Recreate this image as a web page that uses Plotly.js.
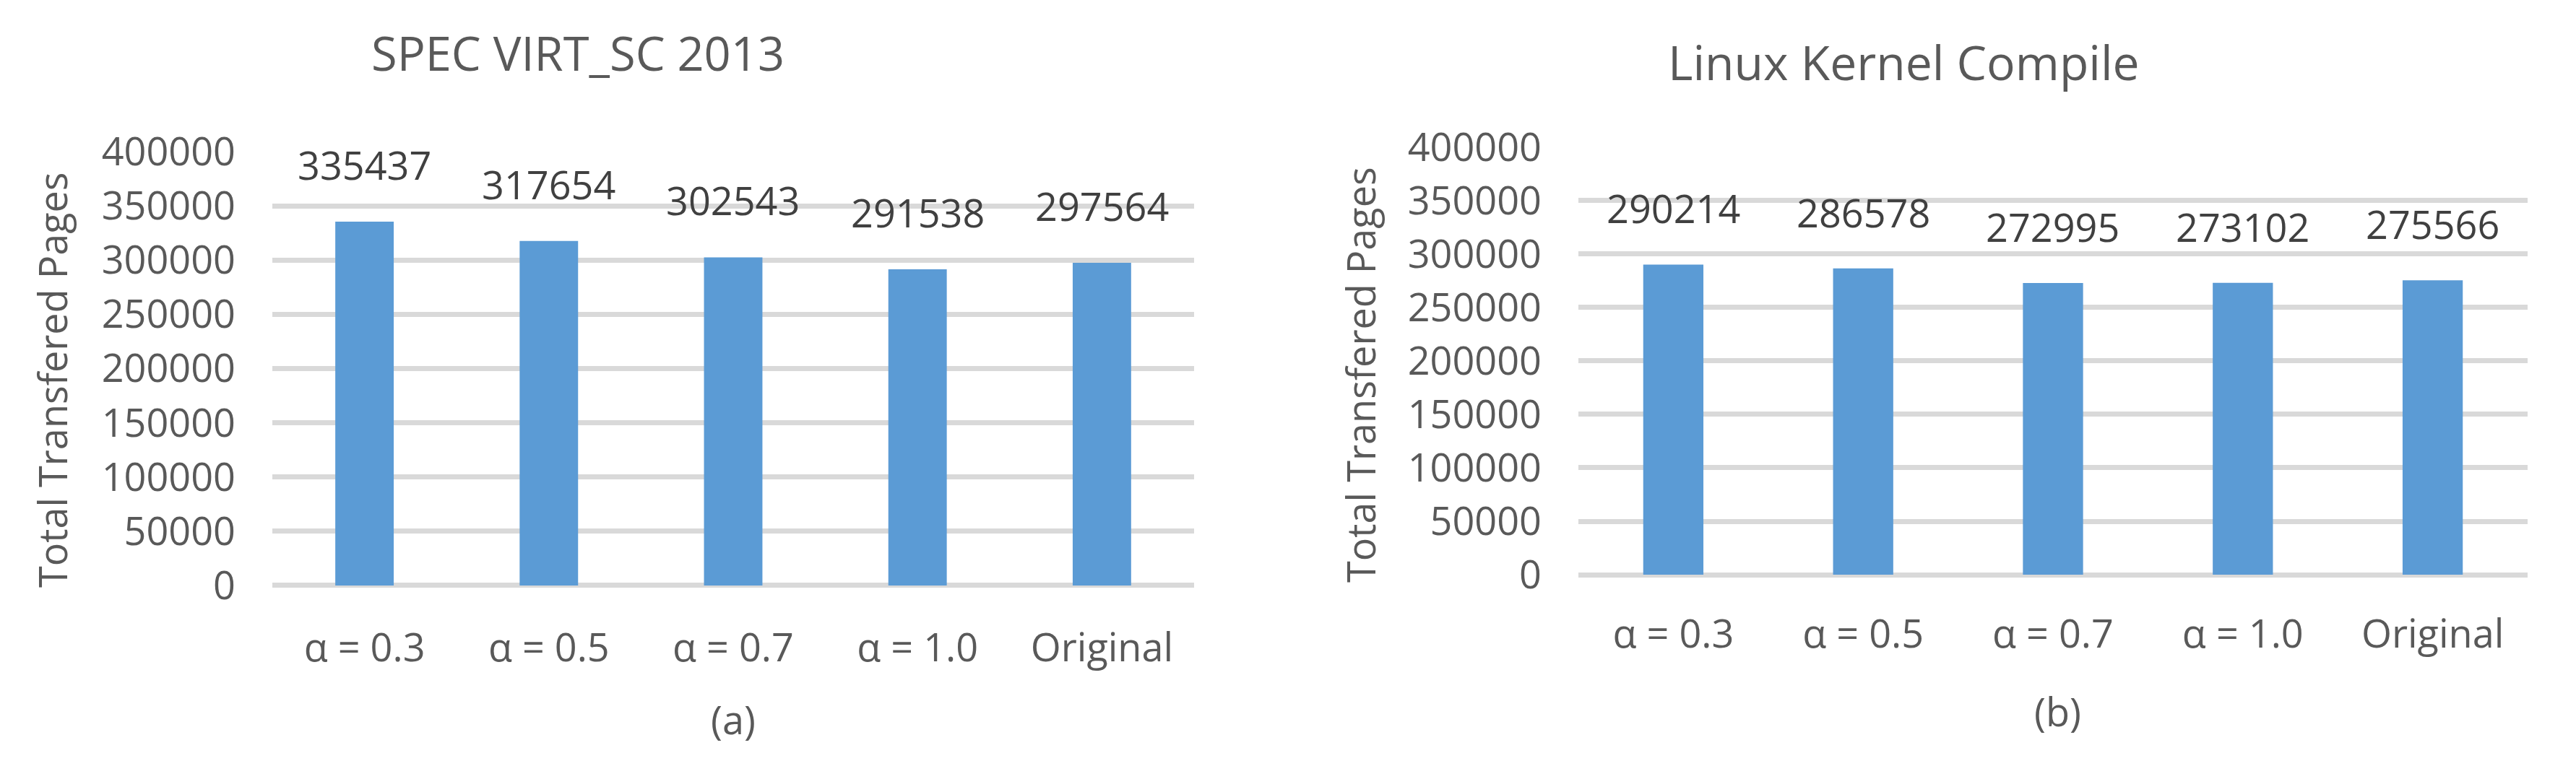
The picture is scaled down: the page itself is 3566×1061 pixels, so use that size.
<!DOCTYPE html>
<html>
<head>
<meta charset="utf-8">
<script src="https://cdn.plot.ly/plotly-3.0.1.min.js"></script>
<style>
  html, body { margin: 0; padding: 0; background: #fff; }
  #chart { width: 3566px; height: 1061px; }
</style>
</head>
<body>
<div id="chart"></div>
<script>
// categories and values
var categories = ['α = 0.3', 'α = 0.5', 'α = 0.7', 'α = 1.0', 'Original'];
var specVirt = [335437, 317654, 302543, 291538, 297564];
var kernelCompile = [290214, 286578, 272995, 273102, 275566];
var yTicks = [0, 50000, 100000, 150000, 200000, 250000, 300000, 350000, 400000];

var barColor = '#5B9BD5';
var gridColor = '#D9D9D9';
var textColor = '#595959';
var font = 'Open Sans, Liberation Sans, sans-serif';

var data = [{
    x: categories,
    y: specVirt,
    xaxis: 'x',
    yaxis: 'y',
    type: 'bar',
    marker: { color: barColor },
    hoverinfo: 'x+y'
}, {
    x: categories,
    y: kernelCompile,
    xaxis: 'x2',
    yaxis: 'y2',
    type: 'bar',
    marker: { color: barColor },
    hoverinfo: 'x+y'
}];

function yAxis(domain, anchor) {
    return {
        domain: domain,
        anchor: anchor,
        range: [0, 400000],
        tickvals: yTicks,
        tickformat: 'd',
        showgrid: true,
        gridcolor: gridColor,
        gridwidth: 7,
        zeroline: true,
        zerolinecolor: gridColor,
        zerolinewidth: 7,
        showline: false,
        ticks: '',
        ticklabelstandoff: 50,
        tickfont: { family: font, size: 54, color: textColor },
        fixedrange: true
    };
}

function xAxis(domain, anchor, standoff) {
    return {
        domain: domain,
        anchor: anchor,
        showgrid: false,
        zeroline: false,
        showline: false,
        ticks: '',
        ticklabelstandoff: standoff,
        tickfont: { family: font, size: 54, color: textColor },
        fixedrange: true
    };
}

// data labels sit well above the bar ends, like the original
var annotations = [];
specVirt.forEach(function (v, i) {
    annotations.push({
        x: categories[i], y: v, xref: 'x', yref: 'y',
        text: String(v), showarrow: false, yanchor: 'middle', yshift: 79,
        font: { family: font, size: 54, color: '#404040' }
    });
});
kernelCompile.forEach(function (v, i) {
    annotations.push({
        x: categories[i], y: v, xref: 'x2', yref: 'y2',
        text: String(v), showarrow: false, yanchor: 'middle', yshift: 78,
        font: { family: font, size: 54, color: '#404040' }
    });
});

// panel titles, axis titles and captions
var labels = [
    { text: 'SPEC VIRT_SC 2013', x: 0.2243, y: 0.9312, size: 65 },
    { text: 'Linux Kernel Compile', x: 0.7392, y: 0.9199, size: 66 },
    { text: '(a)', x: 0.2846, y: 0.0613, size: 54 },
    { text: '(b)', x: 0.7989, y: 0.0716, size: 54 }
];
labels.forEach(function (l) {
    annotations.push({
        text: l.text, x: l.x, y: l.y, xref: 'paper', yref: 'paper',
        xanchor: 'center', yanchor: 'middle', showarrow: false,
        font: { family: font, size: l.size, color: textColor }
    });
});
[[0.0202, 0.5042], [0.5280, 0.5108]].forEach(function (p) {
    annotations.push({
        text: 'Total Transfered Pages', x: p[0], y: p[1], xref: 'paper', yref: 'paper',
        xanchor: 'center', yanchor: 'middle', textangle: -90, showarrow: false,
        font: { family: font, size: 54, color: textColor }
    });
});

var layout = {
    width: 3566,
    height: 1061,
    margin: { l: 0, r: 0, t: 0, b: 0, pad: 0 },
    paper_bgcolor: '#ffffff',
    plot_bgcolor: '#ffffff',
    showlegend: false,
    bargap: 0.683,
    xaxis: xAxis([0.10572, 0.46354], 'y', 50),
    yaxis: yAxis([0.23563, 0.80207], 'x'),
    xaxis2: xAxis([0.61273, 0.98121], 'y2', 46),
    yaxis2: yAxis([0.24976, 0.80773], 'x2'),
    annotations: annotations
};

Plotly.newPlot('chart', data, layout, { displayModeBar: false, staticPlot: true });
</script>
</body>
</html>
